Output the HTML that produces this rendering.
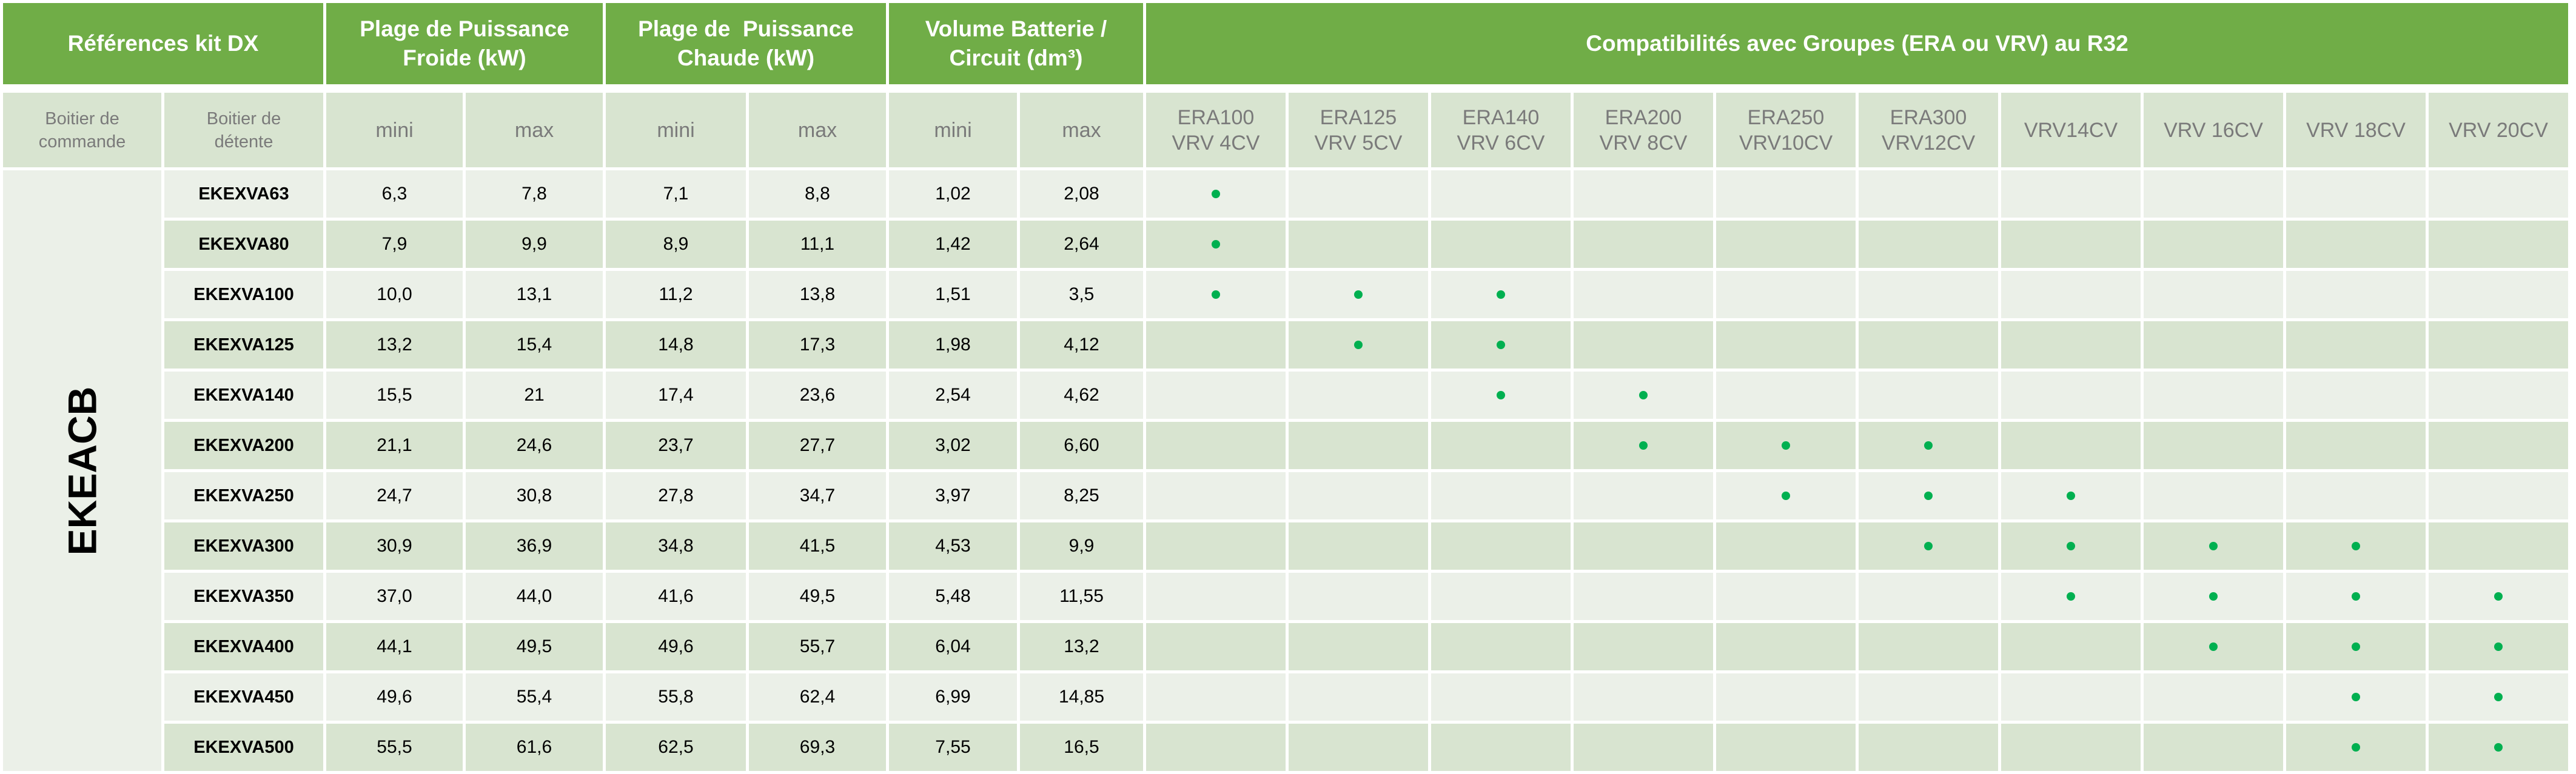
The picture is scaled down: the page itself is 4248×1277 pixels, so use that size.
<!DOCTYPE html>
<html><head><meta charset="utf-8"><style>
html,body{margin:0;padding:0;background:#fff;width:4248px;height:1277px;overflow:hidden}
.g{position:absolute;left:5px;top:5px;display:grid;grid-template-columns:261px 262px 225px 226px 231px 226px 211px 203px repeat(10,230px);grid-template-rows:134px 4px 123px repeat(12,78px);gap:5px;font-family:"Liberation Sans",sans-serif}
.g>div{display:flex;align-items:center;justify-content:center;text-align:center}
.h{background:#70AD47;color:#fff;font-weight:bold;font-size:37px;line-height:48px}
.s{background:#D8E4D0;color:#7a7a7a;font-size:34px;line-height:42px}
.s.b{font-size:29px;line-height:38px}
.l{background:#EBF0E8;font-size:30px;color:#000}
.d{background:#D8E4D0;font-size:30px;color:#000}
.k{font-weight:bold;font-size:29px}
.sp{grid-column:1/-1;background:#fff}
.m{grid-row:span 12;background:#EBF0E8}
.m span{transform:rotate(-90deg);font-weight:bold;font-size:66px;white-space:nowrap;color:#000}
i{display:block;width:14px;height:14px;border-radius:50%;background:#00B050}
</style></head><body>
<div class="g">
<div class="h" style="grid-column:span 2">Références kit DX</div>
<div class="h" style="grid-column:span 2">Plage de Puissance<br>Froide (kW)</div>
<div class="h" style="grid-column:span 2">Plage de&nbsp; Puissance<br>Chaude (kW)</div>
<div class="h" style="grid-column:span 2">Volume Batterie /<br>Circuit (dm³)</div>
<div class="h" style="grid-column:span 10">Compatibilités avec Groupes (ERA ou VRV) au R32</div>
<div class="sp"></div>
<div class="s b">Boitier de<br>commande</div><div class="s b">Boitier de<br>détente</div>
<div class="s">mini</div><div class="s">max</div><div class="s">mini</div><div class="s">max</div><div class="s">mini</div><div class="s">max</div>
<div class="s">ERA100<br>VRV 4CV</div><div class="s">ERA125<br>VRV 5CV</div><div class="s">ERA140<br>VRV 6CV</div><div class="s">ERA200<br>VRV 8CV</div><div class="s">ERA250<br>VRV10CV</div><div class="s">ERA300<br>VRV12CV</div><div class="s">VRV14CV</div><div class="s">VRV 16CV</div><div class="s">VRV 18CV</div><div class="s">VRV 20CV</div>

<div class="m"><span>EKEACB</span></div>
<div class="l k">EKEXVA63</div><div class="l">6,3</div><div class="l">7,8</div><div class="l">7,1</div><div class="l">8,8</div><div class="l">1,02</div><div class="l">2,08</div>
<div class="l"><i></i></div><div class="l"></div><div class="l"></div><div class="l"></div><div class="l"></div><div class="l"></div><div class="l"></div><div class="l"></div><div class="l"></div><div class="l"></div>

<div class="d k">EKEXVA80</div><div class="d">7,9</div><div class="d">9,9</div><div class="d">8,9</div><div class="d">11,1</div><div class="d">1,42</div><div class="d">2,64</div>
<div class="d"><i></i></div><div class="d"></div><div class="d"></div><div class="d"></div><div class="d"></div><div class="d"></div><div class="d"></div><div class="d"></div><div class="d"></div><div class="d"></div>

<div class="l k">EKEXVA100</div><div class="l">10,0</div><div class="l">13,1</div><div class="l">11,2</div><div class="l">13,8</div><div class="l">1,51</div><div class="l">3,5</div>
<div class="l"><i></i></div><div class="l"><i></i></div><div class="l"><i></i></div><div class="l"></div><div class="l"></div><div class="l"></div><div class="l"></div><div class="l"></div><div class="l"></div><div class="l"></div>

<div class="d k">EKEXVA125</div><div class="d">13,2</div><div class="d">15,4</div><div class="d">14,8</div><div class="d">17,3</div><div class="d">1,98</div><div class="d">4,12</div>
<div class="d"></div><div class="d"><i></i></div><div class="d"><i></i></div><div class="d"></div><div class="d"></div><div class="d"></div><div class="d"></div><div class="d"></div><div class="d"></div><div class="d"></div>

<div class="l k">EKEXVA140</div><div class="l">15,5</div><div class="l">21</div><div class="l">17,4</div><div class="l">23,6</div><div class="l">2,54</div><div class="l">4,62</div>
<div class="l"></div><div class="l"></div><div class="l"><i></i></div><div class="l"><i></i></div><div class="l"></div><div class="l"></div><div class="l"></div><div class="l"></div><div class="l"></div><div class="l"></div>

<div class="d k">EKEXVA200</div><div class="d">21,1</div><div class="d">24,6</div><div class="d">23,7</div><div class="d">27,7</div><div class="d">3,02</div><div class="d">6,60</div>
<div class="d"></div><div class="d"></div><div class="d"></div><div class="d"><i></i></div><div class="d"><i></i></div><div class="d"><i></i></div><div class="d"></div><div class="d"></div><div class="d"></div><div class="d"></div>

<div class="l k">EKEXVA250</div><div class="l">24,7</div><div class="l">30,8</div><div class="l">27,8</div><div class="l">34,7</div><div class="l">3,97</div><div class="l">8,25</div>
<div class="l"></div><div class="l"></div><div class="l"></div><div class="l"></div><div class="l"><i></i></div><div class="l"><i></i></div><div class="l"><i></i></div><div class="l"></div><div class="l"></div><div class="l"></div>

<div class="d k">EKEXVA300</div><div class="d">30,9</div><div class="d">36,9</div><div class="d">34,8</div><div class="d">41,5</div><div class="d">4,53</div><div class="d">9,9</div>
<div class="d"></div><div class="d"></div><div class="d"></div><div class="d"></div><div class="d"></div><div class="d"><i></i></div><div class="d"><i></i></div><div class="d"><i></i></div><div class="d"><i></i></div><div class="d"></div>

<div class="l k">EKEXVA350</div><div class="l">37,0</div><div class="l">44,0</div><div class="l">41,6</div><div class="l">49,5</div><div class="l">5,48</div><div class="l">11,55</div>
<div class="l"></div><div class="l"></div><div class="l"></div><div class="l"></div><div class="l"></div><div class="l"></div><div class="l"><i></i></div><div class="l"><i></i></div><div class="l"><i></i></div><div class="l"><i></i></div>

<div class="d k">EKEXVA400</div><div class="d">44,1</div><div class="d">49,5</div><div class="d">49,6</div><div class="d">55,7</div><div class="d">6,04</div><div class="d">13,2</div>
<div class="d"></div><div class="d"></div><div class="d"></div><div class="d"></div><div class="d"></div><div class="d"></div><div class="d"></div><div class="d"><i></i></div><div class="d"><i></i></div><div class="d"><i></i></div>

<div class="l k">EKEXVA450</div><div class="l">49,6</div><div class="l">55,4</div><div class="l">55,8</div><div class="l">62,4</div><div class="l">6,99</div><div class="l">14,85</div>
<div class="l"></div><div class="l"></div><div class="l"></div><div class="l"></div><div class="l"></div><div class="l"></div><div class="l"></div><div class="l"></div><div class="l"><i></i></div><div class="l"><i></i></div>

<div class="d k">EKEXVA500</div><div class="d">55,5</div><div class="d">61,6</div><div class="d">62,5</div><div class="d">69,3</div><div class="d">7,55</div><div class="d">16,5</div>
<div class="d"></div><div class="d"></div><div class="d"></div><div class="d"></div><div class="d"></div><div class="d"></div><div class="d"></div><div class="d"></div><div class="d"><i></i></div><div class="d"><i></i></div>
</div>
</body></html>
